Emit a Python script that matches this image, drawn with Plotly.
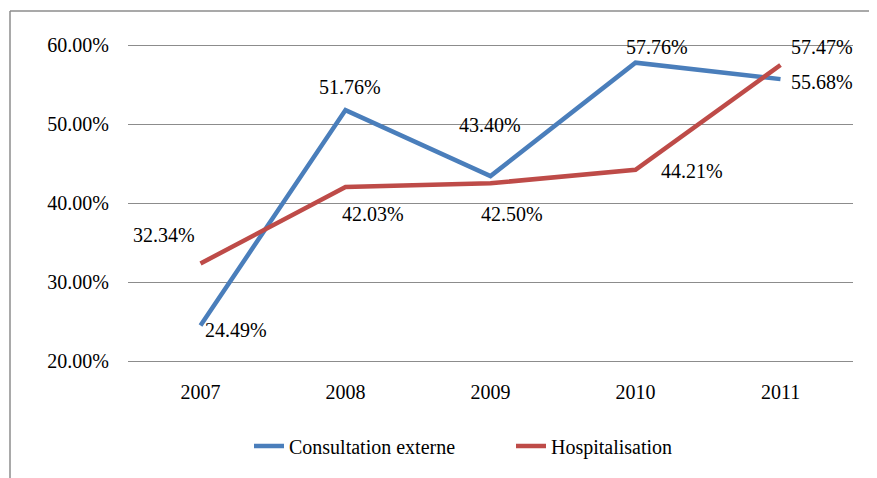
import plotly.graph_objects as go

years = ["2007", "2008", "2009", "2010", "2011"]
consultation = [24.49, 51.76, 43.40, 57.76, 55.68]
hospitalisation = [32.34, 42.03, 42.50, 44.21, 57.47]
y_ticks = [20, 30, 40, 50, 60]
y_tick_labels = ["20.00%", "30.00%", "40.00%", "50.00%", "60.00%"]

# label offsets in pixels (xshift, yshift)
cons_offsets = [(35, -5), (4, 22), (-1, 50), (21, 15), (41, -4)]
hosp_offsets = [(-37, 28), (27, -28), (21, -32), (56, -2), (41, 17)]

BLUE = "#4A7EBB"
RED = "#BE4B48"
FONT = "Liberation Serif"

OFF = 8   # page body margin of the browser
PAD = 3   # extra pixels above/below the grid so edge gridlines are drawn
W, H = 877 - OFF, 478 - OFF
L, R, T, B = 128 - OFF, 24, 45 - OFF - PAD, 117 - PAD
pw, ph = W - L - R, H - T - B
unit = (ph - 2 * PAD) / 40.0
y_range = [20 - PAD / unit, 60 + PAD / unit]

fig = go.Figure()
fig.add_trace(go.Scatter(x=years, y=consultation, mode="lines", name="Consultation externe",
                         line=dict(color=BLUE, width=4.5)))
fig.add_trace(go.Scatter(x=years, y=hospitalisation, mode="lines", name="Hospitalisation",
                         line=dict(color=RED, width=4.5)))

annotations = []
for vals, offs in ((consultation, cons_offsets), (hospitalisation, hosp_offsets)):
    for i, (v, (dx, dy)) in enumerate(zip(vals, offs)):
        annotations.append(dict(x=i, y=v, xref="x", yref="y", text=f"{v:.2f}%",
                                showarrow=False, xshift=dx, yshift=dy + 1,
                                font=dict(family=FONT, size=20, color="black")))

def px_x(p):
    return (p - OFF - L) / pw

def px_y(p):
    return (H + OFF - B - p) / ph

shapes = [
    dict(type="line", xref="paper", yref="paper", x0=px_x(10), x1=px_x(10),
         y0=px_y(478 + 5), y1=px_y(11), line=dict(color="#8c8c8c", width=1.5)),
    dict(type="line", xref="paper", yref="paper", x0=px_x(10), x1=px_x(877 + 5),
         y0=px_y(11), y1=px_y(11), line=dict(color="#8c8c8c", width=1.5)),
]

fig.update_layout(
    width=W, height=H,
    margin=dict(l=L, r=R, t=T, b=B),
    paper_bgcolor="white", plot_bgcolor="white",
    font=dict(family=FONT, size=20, color="black"),
    showlegend=True,
    legend=dict(orientation="h", x=px_x(249), xanchor="left", y=px_y(446), yanchor="middle",
                font=dict(family=FONT, size=20, color="black"), entrywidth=217,
                traceorder="normal", bgcolor="rgba(0,0,0,0)"),
    xaxis=dict(type="category", showgrid=False, zeroline=False, showline=False,
               ticks="", tickfont=dict(family=FONT, size=20), range=[-0.5, 4.5],
               ticklabelstandoff=11 + PAD),
    yaxis=dict(range=y_range, tickvals=y_ticks, ticktext=y_tick_labels,
               showgrid=True, gridcolor="#8c8c8c", gridwidth=1.3, zeroline=False,
               showline=False, ticks="", ticklabelstandoff=18,
               tickfont=dict(family=FONT, size=20)),
    annotations=annotations,
    shapes=shapes,
)

fig.write_html("out.html")
